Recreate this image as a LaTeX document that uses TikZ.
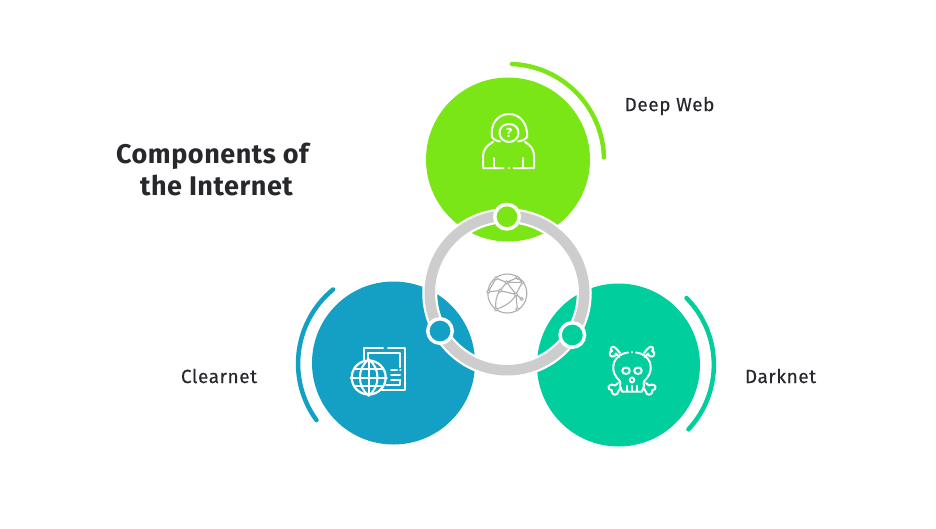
\documentclass[tikz,border=0pt]{standalone}
\usepackage{fontspec}
\setmainfont{Fira Sans}
\definecolor{cgreen}{HTML}{7AE615}
\definecolor{cblue}{HTML}{14A0C4}
\definecolor{cteal}{HTML}{00CE9C}
\definecolor{cring}{HTML}{CDCDCD}
\definecolor{ctext}{HTML}{26282C}
\tikzset{
  x=1pt,y=-1pt,
  disc/.style={circle,minimum size=#1,inner sep=0pt,outer sep=0pt},
  lab/.style={font=\fontsize{19}{19}\selectfont\addfontfeature{LetterSpace=3,FakeBold=0.25},text=ctext,inner sep=0pt},
  title/.style={font=\fontsize{27}{32.5}\selectfont\bfseries\addfontfeature{LetterSpace=2},text=ctext,inner sep=0pt,align=center},
  arcline/.style={line width=4.5pt,line cap=round},
  ico/.style={white,line width=2pt,line cap=round,line join=round},
  netl/.style={cring!85!black,line width=1.1pt},
  knob/.style={circle,draw=white,line width=3.5pt,minimum size=24.5pt,inner sep=0pt}
}
\begin{document}
\begin{tikzpicture}
\useasboundingbox (0,0) rectangle (936,528);
\fill[white] (0,0) rectangle (936,528);
% discs
\node[disc=164pt,fill=cgreen] (deep) at (508,159.5) {};
\node[disc=163pt,fill=cblue] (clear) at (393.5,363) {};
\node[disc=163pt,fill=cteal] (dark) at (618.5,365) {};
% ring
\node[circle,draw=white,line width=15pt,minimum size=154.5pt,inner sep=0pt] (halo) at (507,293) {};
\node[circle,draw=cring,line width=10.5pt,minimum size=154.5pt,inner sep=0pt] (ring) at (507,293) {};
% outer arcs
\draw[arcline,cgreen] (512,64) arc[start angle=272.4,end angle=358.5,radius=96];
\draw[arcline,cblue] (333,289.5) arc[start angle=230.5,end angle=143.9,radius=96];
\draw[arcline,cteal] (686.5,298) arc[start angle=-44.6,end angle=42.9,radius=95];
% knobs
\node[knob,fill=cgreen] (k1) at (507,216.7) {};
\node[knob,fill=cblue] (k2) at (440,331) {};
\node[knob,fill=cteal] (k3) at (572.3,335) {};
% labels
\node[lab] (l1) at (669.5,106) {Deep Web};
\node[lab] (l2) at (219,376) {Clearnet};
\node[lab] (l3) at (780.5,376) {Darknet};
\node[title] (t) at (212.5,169.5) {Components of\\ \hspace*{8pt}the Internet};
% hooded icon
\begin{scope}[ico]
\draw (492,137) .. controls (490,125) and (497,114) .. (509,114) .. controls (521,114) and (528,125) .. (527,137) .. controls (526,139) and (522,141) .. (518,141.5);
\draw (492,137) .. controls (493,139) and (496,141) .. (500,141.5);
\draw (509,124) .. controls (503,124) and (499.5,128) .. (499.5,133) .. controls (499.5,138) and (504,142) .. (509,142) .. controls (514,142) and (518.5,138) .. (518.5,133) .. controls (518.5,128) and (515,124) .. (509,124);
\draw (493,142) .. controls (487,145) and (483,150) .. (483,156) -- (483,168) -- (503.5,168);
\draw (525,142) .. controls (531,145) and (534,150) .. (534,156) -- (534,168) -- (513.5,168);
\draw (494,158) -- (494,167.5);
\draw (523,158) -- (523,167.5);
\fill[white] (509,168) circle (1.1pt);
\end{scope}
\node[text=white,inner sep=0pt,font=\fontsize{13}{13}\selectfont\bfseries] (q) at (509,132.7) {?};
% globe icon
\begin{scope}[ico]
\draw (364,360) -- (364,347.7) -- (383,347.7);
\draw (388,347.7) -- (405,347.7) -- (405,390) -- (382,390);
\draw (367.7,360) -- (367.7,353) -- (400,353) -- (400,367);
\draw (391,369.5) -- (397,369.5);
\draw (400,369.5) -- (400.5,369.5);
\draw (391,375) -- (400,375);
\draw (391,379.5) -- (400,379.5);
\draw (400,380) -- (400,385) -- (386,385);
\node[circle,draw=white,fill=cblue,line width=2.2pt,minimum size=34pt,inner sep=0pt] (gl) at (368.7,377.5) {};
\draw (gl.north) .. controls (357,368) and (357,387) .. (gl.south);
\draw (gl.north) .. controls (380.4,368) and (380.4,387) .. (gl.south);
\draw (gl.north) -- (gl.south);
\draw (gl.west) -- (gl.east);
\draw (354.5,369) -- (383,369);
\draw (354.5,386) -- (383,386);
\end{scope}
% skull icon
\begin{scope}[ico]
\draw (636,352.5) .. controls (650,354) and (655,368) .. (647,378) .. controls (644,381) and (643,382) .. (644,386) -- (642,391.5) -- (622,391.5) -- (620,386) .. controls (621,382) and (620,381) .. (617,378) .. controls (609,368) and (614,354) .. (628,352.5);
\fill[white] (632,352.3) circle (1.1pt);
\draw (627,385.5) -- (627,391);
\draw (632,385.5) -- (632,391);
\draw (637,385.5) -- (637,391);
\draw (626,367.5) .. controls (631,367.5) and (631,374) .. (626,374) .. controls (621,374) and (621,367.5) .. (626,367.5);
\draw (638,367.5) .. controls (633,367.5) and (633,374) .. (638,374) .. controls (643,374) and (643,367.5) .. (638,367.5);
\draw (632,377.5) .. controls (635,377.5) and (635,382.5) .. (632,382.5) .. controls (629,382.5) and (629,377.5) .. (632,377.5);
% crossbones, top
\draw (619.5,357) -- (616,353.5) .. controls (616,356.5) and (611,358) .. (610,355) .. controls (609,353) and (610,351.5) .. (612,351) .. controls (609,349) and (612,345) .. (615,347.5) .. controls (617,349) and (618,351) .. (620,353);
\draw (644.5,357) -- (648,353.5) .. controls (648,356.5) and (653,358) .. (654,355) .. controls (655,353) and (654,351.5) .. (652,351) .. controls (655,349) and (652,345) .. (649,347.5) .. controls (647,349) and (646,351) .. (644,353);
% crossbones, bottom
\draw (618,383) -- (615,385.5) .. controls (611,383) and (607,386) .. (609,389) .. controls (610,390) and (611,390.5) .. (612,390.5) .. controls (611,393) and (614,396) .. (617,394) .. controls (619,392) and (618,390) .. (620,388.5);
\draw (646,383) -- (649,385.5) .. controls (653,383) and (657,386) .. (655,389) .. controls (654,390) and (653,390.5) .. (652,390.5) .. controls (653,393) and (650,396) .. (647,394) .. controls (645,392) and (646,390) .. (644,388.5);
\end{scope}
% network globe
\begin{scope}[netl]
\draw (507.3,293.5) circle (19.5);
\coordinate (n1) at (496,278.3);
\coordinate (n2) at (506.7,282.3);
\coordinate (n3) at (517.3,277.7);
\coordinate (n4) at (522.3,282.3);
\coordinate (n5) at (488.3,291.7);
\coordinate (n6) at (500,290.7);
\coordinate (n7) at (516,294.3);
\coordinate (n8) at (521.7,299);
\coordinate (n9) at (496,309.3);
\coordinate (n10) at (517.3,309.3);
\draw (n5) -- (n1) -- (n2) -- (n3) -- (n4) -- (n2);
\draw (n2) -- (n6) -- (n7) -- (n2);
\draw (n5) -- (n6);
\draw (n7) -- (n4);
\draw (n7) -- (n8);
\draw (n7) -- (n10);
\draw (n6) .. controls (496,296) and (495,303) .. (n9);
\draw (n7) .. controls (513,301) and (506,306) .. (n9);
\foreach \p in {n1,n2,n3,n4,n5,n6,n7,n8,n9,n10}
  \filldraw[fill=white,line width=0.9pt] (\p) circle (1.6);
\end{scope}
\end{tikzpicture}
\end{document}
